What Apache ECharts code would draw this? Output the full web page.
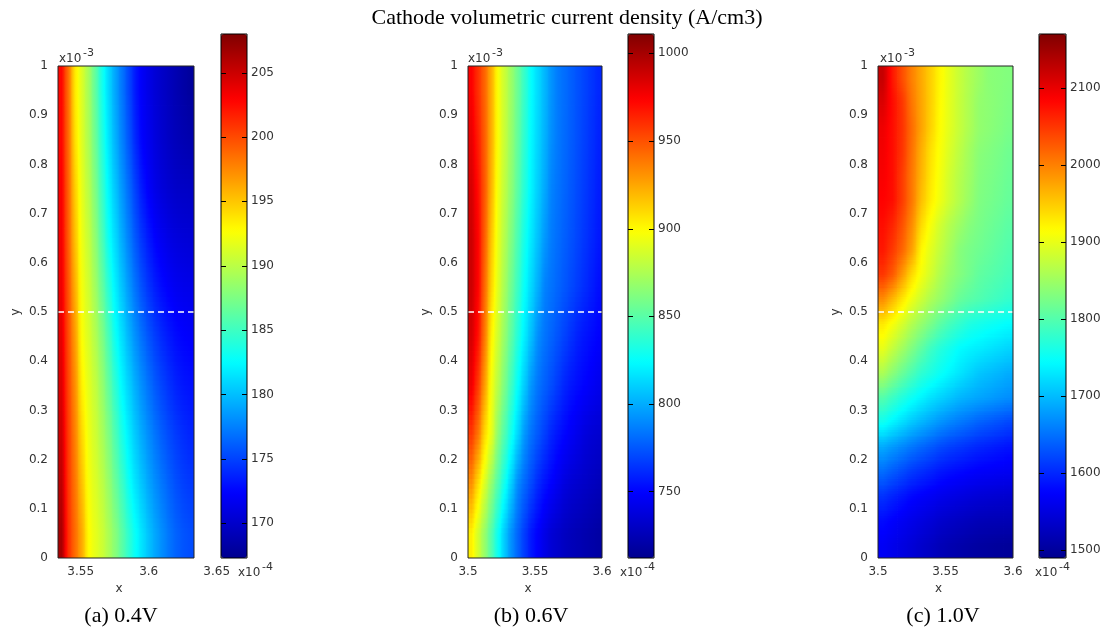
<!DOCTYPE html>
<html><head><meta charset="utf-8">
<script src="https://cdn.jsdelivr.net/npm/echarts@6/dist/echarts.min.js"></script>
<style>html,body{margin:0;padding:0;background:#fff}#c{width:1104px;height:629px}</style>
</head><body><div id="c"></div>
<script>
// ---------------- DATA ----------------
const chartTitle = 'Cathode volumetric current density (A/cm3)';
const captions = ['(a) 0.4V', '(b) 0.6V', '(c) 1.0V'];

// panel (a) 0.4V : sample positions and values (rows bottom -> top)
const xA = [3.5358,3.5408,3.5458,3.5508,3.5558,3.5608,3.5658,3.5708,3.5758,3.5808,3.5858,3.5908,3.5958,3.6008,3.6058,3.6108,3.6158,3.6208,3.6258,3.6308];
const yA = [0.05,0.15,0.25,0.35,0.45,0.55,0.65,0.75,0.85,0.95];
const zA = [
 [206.4,201.1,198.6,196.1,192.8,191.7,190.7,189.3,187.8,186.0,184.2,182.6,181.2,179.9,178.8,177.8,176.9,176.2,175.7,175.4],
 [205.6,200.8,198.2,195.2,192.4,191.3,190.1,188.5,186.6,184.8,182.8,181.3,180.0,178.8,177.8,176.9,176.1,175.4,174.9,174.6],
 [204.9,200.6,197.7,194.3,192.0,190.8,189.3,187.5,185.4,183.4,181.7,180.2,178.9,177.8,176.8,175.9,175.2,174.6,174.1,173.8],
 [204.3,200.2,197.2,193.3,191.6,190.3,188.5,186.3,184.1,182.1,180.6,179.1,177.8,176.7,175.7,174.9,174.2,173.6,173.2,173.0],
 [203.9,199.9,196.6,192.6,191.2,189.6,187.6,185.2,182.8,181.1,179.4,177.9,176.6,175.5,174.6,173.8,173.2,172.7,172.4,172.2],
 [203.5,199.6,195.9,192.3,190.8,188.9,186.5,184.0,181.8,180.0,178.3,176.7,175.3,174.2,173.3,172.6,172.1,171.7,171.5,171.4],
 [203.3,199.2,195.2,192.0,190.4,188.2,185.5,182.8,180.9,179.0,177.3,175.6,174.2,173.1,172.2,171.6,171.1,170.8,170.6,170.5],
 [203.1,199.0,194.7,191.7,189.9,187.5,184.7,182.1,180.1,178.2,176.5,174.7,173.1,172.0,171.2,170.6,170.2,169.9,169.8,169.7],
 [202.7,198.7,194.0,191.4,189.4,186.8,183.9,181.4,179.3,177.4,175.6,173.7,172.2,171.5,170.7,170.1,169.6,169.2,168.9,168.7],
 [202.7,198.5,193.6,191.3,189.1,186.3,183.3,180.9,178.8,176.9,175.0,173.1,171.9,171.1,170.4,169.8,169.3,168.8,168.3,167.9]
];

// panel (b) 0.6V
const xB = [3.5025,3.5075,3.5125,3.5175,3.5225,3.5275,3.5325,3.5375,3.5425,3.5475,3.5525,3.5575,3.5625,3.5675,3.5725,3.5775,3.5825,3.5875,3.5925,3.5975];
const yB = [0.05,0.15,0.25,0.35,0.45,0.55,0.65,0.75,0.85,0.95];
const zB = [
 [903.4,885.4,867.5,847.7,826.8,807.4,790.6,777.5,765.8,755.1,748.2,741.0,735.0,731.7,728.4,726.1,724.3,722.5,720.7,718.9],
 [931.8,908.7,887.2,866.3,846.6,827.4,808.3,788.8,778.7,769.7,760.4,753.9,748.8,743.4,738.0,734.7,732.6,730.5,728.4,726.4],
 [957.2,938.9,909.3,891.4,864.2,846.0,828.0,810.4,792.1,781.7,774.2,766.7,759.2,754.2,750.0,745.8,741.9,737.7,735.0,733.5],
 [978.1,956.9,927.0,895.0,877.0,859.1,841.2,823.5,807.7,792.1,782.9,776.9,771.2,765.2,759.2,755.1,752.1,749.4,746.4,743.4],
 [985.9,968.8,937.4,901.9,883.6,866.9,850.1,833.4,818.1,804.1,790.0,782.9,778.1,773.0,767.9,762.8,758.0,754.8,752.1,749.4],
 [988.6,973.3,942.2,910.8,888.4,872.0,855.5,840.0,824.1,811.6,799.3,786.8,782.6,778.4,774.2,770.0,765.8,761.6,757.4,753.0],
 [988.6,973.3,945.5,915.3,891.4,875.9,860.3,844.5,828.9,816.4,805.0,793.3,785.0,780.8,776.6,772.7,768.5,764.3,760.1,756.0],
 [985.9,970.0,947.3,920.1,894.1,879.4,864.8,849.2,833.7,819.9,808.9,798.1,787.0,782.6,778.4,774.2,770.0,765.8,761.6,757.4],
 [980.5,965.0,945.8,921.9,896.5,881.8,866.9,851.6,835.8,821.4,811.0,800.8,790.3,784.1,779.9,775.7,771.5,767.3,763.1,758.9],
 [974.2,959.6,943.7,921.9,896.5,882.7,868.7,854.0,838.2,823.2,812.8,802.3,791.8,784.7,780.8,776.6,772.4,768.5,764.3,760.4]
];

// panel (c) 1.0V
const xC = [3.5036,3.5107,3.5179,3.5250,3.5321,3.5393,3.5464,3.5536,3.5607,3.5679,3.5750,3.5821,3.5893,3.5964];
const yC = [0.025,0.075,0.125,0.175,0.225,0.275,0.325,0.375,0.425,0.475,0.525,0.575,0.625,0.675,0.725,0.775,0.825,0.875,0.925,0.975];
const zC = [
 [1567.5,1560.0,1551.9,1544.4,1536.2,1528.8,1520.6,1515.2,1511.1,1507.0,1503.6,1501.6,1499.5,1497.5],
 [1581.1,1573.6,1565.5,1558.0,1551.2,1544.4,1536.9,1532.2,1528.1,1524.0,1520.6,1519.2,1518.6,1517.9],
 [1607.6,1597.4,1587.9,1578.4,1572.3,1566.8,1560.7,1556.0,1551.9,1547.8,1544.4,1542.4,1540.3,1538.3],
 [1647.1,1635.5,1624.0,1612.4,1604.2,1596.8,1588.6,1583.2,1579.1,1575.0,1571.6,1569.6,1567.5,1565.5],
 [1687.9,1676.3,1664.8,1653.2,1643.0,1633.5,1623.3,1615.8,1610.4,1604.2,1598.8,1594.7,1590.6,1586.6],
 [1753.8,1738.2,1722.6,1707.6,1695.4,1683.8,1672.2,1662.7,1654.6,1647.1,1638.9,1633.5,1628.0,1621.9],
 [1800.8,1783.8,1766.8,1751.8,1738.2,1725.3,1715.1,1705.6,1696.0,1689.9,1684.5,1679.7,1674.3,1669.5],
 [1859.2,1836.8,1815.0,1795.3,1775.6,1763.4,1750.4,1738.9,1728.0,1717.1,1706.9,1701.5,1696.0,1689.9],
 [1899.4,1874.9,1852.4,1829.3,1806.9,1784.4,1768.1,1755.9,1743.6,1737.5,1732.8,1727.3,1721.9,1717.1],
 [1929.3,1909.6,1887.1,1863.3,1843.6,1824.6,1804.8,1789.2,1777.0,1764.7,1758.6,1753.8,1749.1,1744.3],
 [1991.8,1962.6,1931.3,1902.8,1880.3,1859.2,1843.6,1828.0,1812.3,1804.2,1798.0,1791.2,1785.1,1779.0],
 [2049.6,2025.8,1983.0,1938.8,1907.5,1884.4,1860.6,1843.6,1832.0,1820.5,1808.9,1803.5,1798.0,1791.9],
 [2070.0,2047.6,2017.7,1978.2,1919.8,1894.6,1872.8,1853.1,1833.4,1824.6,1818.4,1812.3,1805.5,1799.4],
 [2076.8,2061.2,2031.3,1991.8,1938.8,1907.5,1882.4,1862.6,1847.7,1833.4,1825.2,1818.4,1812.3,1805.5],
 [2084.3,2076.8,2044.9,2005.4,1956.5,1924.5,1902.1,1880.3,1862.6,1845.6,1829.3,1823.9,1818.4,1812.3],
 [2089.1,2077.5,2044.9,2005.4,1964.6,1930.0,1905.5,1882.4,1864.7,1849.7,1832.7,1827.3,1821.8,1815.7],
 [2092.5,2076.8,2050.3,2008.8,1968.0,1933.4,1909.6,1887.8,1869.4,1851.8,1836.1,1830.7,1825.2,1819.1],
 [2095.9,2076.8,2051.7,2012.9,1976.2,1943.6,1913.6,1893.9,1875.6,1859.2,1842.9,1837.5,1831.4,1825.9],
 [2109.5,2078.2,2049.0,2006.1,1974.8,1944.9,1915.7,1894.6,1875.6,1859.2,1842.9,1838.2,1833.4,1828.6],
 [2123.1,2070.7,2033.3,1999.3,1972.1,1944.9,1917.7,1895.3,1876.2,1860.6,1848.4,1836.8,1834.1,1831.4]
];

const xRanges = [[3.5333, 3.6333], [3.5, 3.6], [3.5, 3.6]];
const xTickVals = [[3.55, 3.6], [3.5, 3.55, 3.6], [3.5, 3.55, 3.6]];
const xOverflowTick = [3.65];           // panel (a) tick label shown past the axis end
const yRange = [0, 1];
const cutLineY = 0.5;                   // dashed white line
const cbMin = [167.3, 712, 1490];
const cbMax = [208.0, 1011, 2170];
const cbTicks = [
  [170, 175, 180, 185, 190, 195, 200, 205],
  [750, 800, 850, 900, 950, 1000],
  [1500, 1600, 1700, 1800, 1900, 2000, 2100]
];

// ---------------- LAYOUT / STYLE ----------------
const P = {
  plotLeft: [58, 468, 878], plotWidth: [136, 134, 135], plotTop: 66, plotHeight: 492,
  cbLeft: [221, 628, 1039], cbWidth: [26, 26, 27], cbTop: 34, cbHeight: 524
};
const jet = ['#00008f','#0000ff','#0080ff','#00ffff','#80ff80','#ffff00','#ff8000','#ff0000','#800000'];
const jetRGB = jet.map(h => [parseInt(h.slice(1,3),16), parseInt(h.slice(3,5),16), parseInt(h.slice(5,7),16)]);
const tickFont = {fontFamily: 'DejaVu Sans', fontSize: 12, color: '#333'};
const serif = 'Liberation Serif';

const panels = [[xA, yA, zA], [xB, yB, zB], [xC, yC, zC]];

function jetColor(v, lo, hi) {
  let t = (v - lo) / (hi - lo);
  t = Math.max(0, Math.min(1, t));
  const n = jetRGB.length - 1, p = t * n, k = Math.min(Math.floor(p), n - 1), f = p - k;
  const a = jetRGB[k], b = jetRGB[k + 1];
  return 'rgb(' + [0,1,2].map(c => Math.round(a[c] + (b[c] - a[c]) * f)).join(',') + ')';
}
function toData(xs, ys, zs) {
  const out = [];
  ys.forEach((y, j) => xs.forEach((x, i) => out.push([x, y, zs[j][i]])));
  return out;
}
// each sample is drawn as its own cell, shaded smoothly towards its neighbours (like "shading interp")
function cellRenderer(xs, ys, zs, lo, hi) {
  const nx = xs.length, ny = ys.length;
  const dx = xs[1] - xs[0], dy = ys[1] - ys[0];
  const V = (i, j) => zs[Math.max(0, Math.min(ny - 1, j))][Math.max(0, Math.min(nx - 1, i))];
  const S = 10;
  return function (params, api) {
    const idx = params.dataIndex, i = idx % nx, j = Math.floor(idx / nx);
    const x = api.value(0), y = api.value(1);
    const p0 = api.coord([x - dx / 2, y + dy / 2]);
    const p1 = api.coord([x + dx / 2, y - dy / 2]);
    const w = p1[0] - p0[0], h = p1[1] - p0[1];
    const children = [];
    for (let s = 0; s < S; s++) {
      const f = 0.5 - (s + 0.5) / S;            // offset from centre in rows (+ = up)
      const jn = f >= 0 ? j + 1 : j - 1, a = Math.abs(f);
      const row = ii => V(ii, j) * (1 - a) + V(ii, jn) * a;
      const vC = row(i), vL = (row(i - 1) + vC) / 2, vR = (vC + row(i + 1)) / 2;
      const vals = [vL, (vL + vC) / 2, vC, (vC + vR) / 2, vR];
      children.push({
        type: 'rect',
        shape: {x: p0[0] - 0.3, y: p0[1] + h * s / S - 0.3, width: w + 0.9, height: h / S + 0.9},
        style: {fill: new echarts.graphic.LinearGradient(0, 0, 1, 0,
          vals.map((v, k) => ({offset: k / 4, color: jetColor(v, lo, hi)})))}
      });
    }
    return {type: 'group', children};
  };
}
function cbTickRenderer(params, api) {
  const pt = api.coord([0, api.value(1)]);
  const cs = params.coordSys, L = 5, yy = Math.round(pt[1]) + 0.5;
  return {type: 'group', children: [
    {type: 'line', shape: {x1: cs.x, y1: yy, x2: cs.x + L, y2: yy}, style: {stroke: '#000', lineWidth: 1}},
    {type: 'line', shape: {x1: cs.x + cs.width - L, y1: yy, x2: cs.x + cs.width, y2: yy}, style: {stroke: '#000', lineWidth: 1}}
  ]};
}

const grid = [], xAxis = [], yAxis = [], series = [], visualMap = [], graphic = [];

for (let i = 0; i < 3; i++) {
  grid.push({left: P.plotLeft[i], top: P.plotTop, width: P.plotWidth[i], height: P.plotHeight,
    show: true, borderColor: '#222', borderWidth: 1, backgroundColor: 'transparent', z: 5});
}
for (let i = 0; i < 3; i++) {
  grid.push({left: P.cbLeft[i], top: P.cbTop, width: P.cbWidth[i], height: P.cbHeight,
    show: true, borderColor: '#000', borderWidth: 1, backgroundColor: 'transparent', z: 10});
}
const extraW = P.plotWidth[0] * (xOverflowTick[0] - xRanges[0][0]) / (xRanges[0][1] - xRanges[0][0]) + 20;
grid.push({left: P.plotLeft[0], top: P.plotTop, height: P.plotHeight, width: extraW, show: false});

for (let i = 0; i < 3; i++) {
  xAxis.push({gridIndex: i, type: 'value', min: xRanges[i][0], max: xRanges[i][1],
    axisLine: {show: false}, axisTick: {show: false}, splitLine: {show: false},
    axisLabel: Object.assign({customValues: xTickVals[i], margin: 8}, tickFont),
    name: 'x', nameLocation: 'middle', nameGap: 24,
    nameTextStyle: Object.assign({padding: [0, 14, 0, 0]}, tickFont)});
}
for (let i = 0; i < 3; i++) {
  xAxis.push({gridIndex: 3 + i, type: 'value', show: false, min: 0, max: 1});
}
xAxis.push({gridIndex: 6, type: 'value', min: xRanges[0][0],
  max: xRanges[0][0] + (xRanges[0][1] - xRanges[0][0]) * extraW / P.plotWidth[0],
  axisLine: {show: false}, axisTick: {show: false}, splitLine: {show: false},
  axisLabel: Object.assign({customValues: xOverflowTick, margin: 8}, tickFont)});

for (let i = 0; i < 3; i++) {
  yAxis.push({gridIndex: i, type: 'value', min: yRange[0], max: yRange[1], interval: 0.1,
    axisLine: {show: false}, axisTick: {show: false}, splitLine: {show: false},
    axisLabel: Object.assign({margin: 10}, tickFont),
    name: 'y', nameLocation: 'middle', nameGap: 36, nameRotate: 90,
    nameTextStyle: Object.assign({}, tickFont)});
}
for (let i = 0; i < 3; i++) {
  yAxis.push({gridIndex: 3 + i, type: 'value', position: 'right', min: cbMin[i], max: cbMax[i],
    axisLine: {show: false}, splitLine: {show: false}, axisTick: {show: false},
    axisLabel: Object.assign({customValues: cbTicks[i], margin: 4, formatter: v => String(v)}, tickFont)});
}
yAxis.push({gridIndex: 6, type: 'value', show: false, min: 0, max: 1});

for (let i = 0; i < 3; i++) {
  const [xs, ys, zs] = panels[i];
  series.push({type: 'custom', xAxisIndex: i, yAxisIndex: i, clip: true, z: 2,
    encode: {x: 0, y: 1}, silent: true,
    renderItem: cellRenderer(xs, ys, zs, cbMin[i], cbMax[i]),
    data: toData(xs, ys, zs)});
}
for (let i = 0; i < 3; i++) {
  series.push({type: 'line', xAxisIndex: i, yAxisIndex: i, symbol: 'none', silent: true, z: 4,
    lineStyle: {color: '#fff', width: 1.5, type: [6, 4]},
    data: [[xRanges[i][0], cutLineY], [xRanges[i][1], cutLineY]]});
}
for (let i = 0; i < 3; i++) {
  series.push({type: 'custom', xAxisIndex: 3 + i, yAxisIndex: 3 + i, silent: true, z: 20, clip: false,
    encode: {x: 0, y: 1}, renderItem: cbTickRenderer,
    data: cbTicks[i].map(v => [0, v])});
}
for (let i = 0; i < 3; i++) {
  visualMap.push({type: 'continuous', seriesIndex: i, dimension: 2, min: cbMin[i], max: cbMax[i],
    inRange: {color: jet}, orient: 'vertical', left: P.cbLeft[i], top: P.cbTop,
    itemWidth: P.cbWidth[i], itemHeight: P.cbHeight, padding: 0, calculable: false,
    hoverLink: false, z: 3});
}

graphic.push({type: 'text', x: 567, y: 18, style: {text: chartTitle, fontFamily: serif, fontSize: 22,
  fill: '#000', align: 'center', verticalAlign: 'middle'}});
const capX = [121, 531, 943];
for (let i = 0; i < 3; i++) {
  graphic.push({type: 'text', x: capX[i], y: 616, style: {text: captions[i], fontFamily: serif, fontSize: 22,
    fill: '#000', align: 'center', verticalAlign: 'middle'}});
}
function expo(x, y, base, ex) {
  graphic.push({type: 'text', x: x, y: y, style: {text: base, fontFamily: 'DejaVu Sans', fontSize: 12,
    fill: '#333', align: 'left', verticalAlign: 'bottom'}});
  graphic.push({type: 'text', x: x + 24, y: y - 6, style: {text: ex, fontFamily: 'DejaVu Sans', fontSize: 11,
    fill: '#333', align: 'left', verticalAlign: 'bottom'}});
}
expo(59, 65, 'x10', '-3');
expo(468, 65, 'x10', '-3');
expo(880, 65, 'x10', '-3');
expo(238, 579, 'x10', '-4');
expo(620, 579, 'x10', '-4');
expo(1035, 579, 'x10', '-4');

const chart = echarts.init(document.getElementById('c'), null, {renderer: 'canvas'});
chart.setOption({animation: false, backgroundColor: '#fff', grid, xAxis, yAxis, series, visualMap, graphic});
</script>
</body></html>
